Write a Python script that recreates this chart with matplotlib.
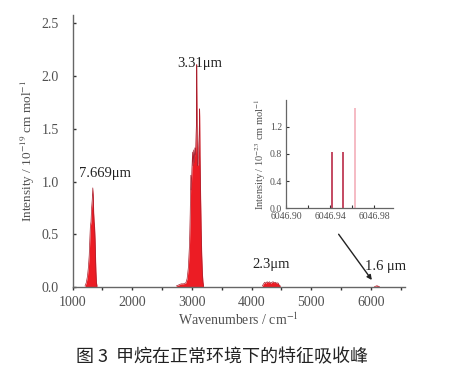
import matplotlib
matplotlib.use("Agg")
import matplotlib.pyplot as plt
from matplotlib.ticker import MultipleLocator, FixedLocator

plt.rcParams['font.family'] = ['Liberation Serif', 'DejaVu Serif']
plt.rcParams['mathtext.fontset'] = 'stix'

# ---- data ----
band1_wn = [1210, 1230, 1250, 1265, 1280, 1290, 1300, 1310, 1320, 1330, 1340, 1348, 1355, 1362, 1370, 1378, 1385, 1392, 1400, 1410]
band1_int = [0.01, 0.04, 0.10, 0.18, 0.30, 0.45, 0.58, 0.62, 0.75, 0.82, 0.94, 0.85, 0.70, 0.62, 0.57, 0.45, 0.30, 0.15, 0.05, 0.01]

band2_wn = [2740, 2780, 2820, 2860, 2900, 2920, 2940, 2960, 2972, 2982, 2990, 3000, 3012, 3020, 3030, 3040, 3050, 3060, 3070, 3076, 3082, 3088, 3096, 3105, 3115, 3122, 3130, 3136, 3145, 3155, 3165, 3175, 3185, 3195]
band2_int = [0.01, 0.02, 0.03, 0.03, 0.04, 0.08, 0.18, 0.40, 0.70, 1.06, 0.92, 1.12, 1.28, 1.15, 1.30, 1.18, 1.32, 1.25, 1.45, 1.55, 2.11, 1.40, 1.15, 1.17, 1.35, 1.45, 1.69, 1.25, 0.90, 0.55, 0.30, 0.14, 0.05, 0.01]

band3_wn = [4180, 4200, 4220, 4240, 4260, 4280, 4300, 4320, 4340, 4360, 4380, 4400, 4420, 4440, 4460, 4480]
band3_int = [0.01, 0.03, 0.045, 0.035, 0.05, 0.04, 0.05, 0.035, 0.045, 0.05, 0.04, 0.045, 0.035, 0.04, 0.02, 0.01]

band4_wn = [6060, 6080, 6100, 6120, 6140]
band4_int = [0.004, 0.008, 0.012, 0.008, 0.004]

inset_wn = [6046.9415, 6046.9515, 6046.9621]
inset_int = [0.82, 0.82, 1.47]
inset_colors = ['#bf3a55', '#bf3a55', '#f5b5bf']

labels = ['7.669μm', '3.31μm', '2.3μm', '1.6 μm']
label_x = [1545, 3130, 4330, 6245]
label_y = [1.08, 2.12, 0.21, 0.19]

caption = '图 3  甲烷在正常环境下的特征吸收峰'

# ---- figure ----
fig = plt.figure(figsize=(4.62, 3.74), dpi=100)
ax = fig.add_axes([72.5/462, 1-287/374, (405-72.5)/462, (287-15)/374])

red = '#ec1c24'
dark = '#a8202e'
for wn, it in [(band1_wn, band1_int), (band2_wn, band2_int), (band3_wn, band3_int), (band4_wn, band4_int)]:
    ax.fill_between(wn, 0, it, color=red, linewidth=0, zorder=2)
    ax.plot(wn, it, color=dark, linewidth=0.5, zorder=3)

ax.set_xlim(1000, 6570)
ax.set_ylim(0, 2.58)
ax.xaxis.set_minor_locator(MultipleLocator(500))
ax.set_yticks([0, 0.5, 1.0, 1.5, 2.0, 2.5])
ax.set_yticklabels(['0.0', '0.5', '1.0', '1.5', '2.0', '2.5'])
ax.set_xticks([1000, 2000, 3000, 4000, 5000, 6000])

gray = '#505050'
for s in ['top', 'right']:
    ax.spines[s].set_visible(False)
for s in ['left', 'bottom']:
    ax.spines[s].set_color('#666666')
    ax.spines[s].set_linewidth(1.0)
ax.tick_params(axis='x', which='both', direction='out', length=2.5, width=1, color='#333333',
               labelsize=10, labelcolor=gray, pad=4)
ax.tick_params(axis='y', which='both', direction='in', length=2.5, width=1, color='#333333',
               labelsize=10, labelcolor=gray, pad=10)

ax.set_xlabel('Wavenumbers / cm$^{-1}$', fontsize=10, color=gray, labelpad=2)
ax.set_ylabel('Intensity / 10$^{-19}$ cm mol$^{-1}$', fontsize=9.5, color=gray, labelpad=3)

for t, x, y in zip(labels, label_x, label_y):
    ax.text(x, y, t, fontsize=10.5, color='#222222', ha='center', va='center')

# arrow from inset to the 1.6 μm band
ax.annotate('', xy=(6042, 0.045), xycoords='data',
            xytext=(337/462, 1-232/374), textcoords='figure fraction',
            arrowprops=dict(arrowstyle='-|>', color='#222222', lw=1.0, mutation_scale=7))

# ---- inset ----
ins = fig.add_axes([286/462, 1-208.3/374, (393-286)/462, (208.3-100)/374])
ins.vlines(inset_wn, 0, inset_int, colors=inset_colors, linewidth=1.3)
ins.set_xlim(6046.90, 6046.997)
ins.set_ylim(0, 1.59)
ins.set_xticks([6046.90, 6046.94, 6046.98])
ins.set_xticklabels(['6046.90', '6046.94', '6046.98'])
ins.xaxis.set_minor_locator(FixedLocator([6046.92, 6046.96]))
ins.set_yticks([0.0, 0.4, 0.8, 1.2])
ins.set_yticklabels(['0.0', '0.4', '0.8', '1.2'])
for s in ['top', 'right']:
    ins.spines[s].set_visible(False)
for s in ['left', 'bottom']:
    ins.spines[s].set_color('#666666')
    ins.spines[s].set_linewidth(0.9)
ins.tick_params(which='both', direction='in', length=2, width=0.8, color='#333333',
                labelsize=7, labelcolor=gray, pad=3)
ins.set_ylabel('Intensity / 10$^{-23}$ cm mol$^{-1}$', fontsize=7.5, color=gray, labelpad=1)

fig.text(222/462, 1-357/374, caption, fontsize=13, color='#222222', ha='center', va='center',
         family=['Noto Sans CJK SC', 'DejaVu Sans'])

fig.savefig('out.png', dpi=100)
